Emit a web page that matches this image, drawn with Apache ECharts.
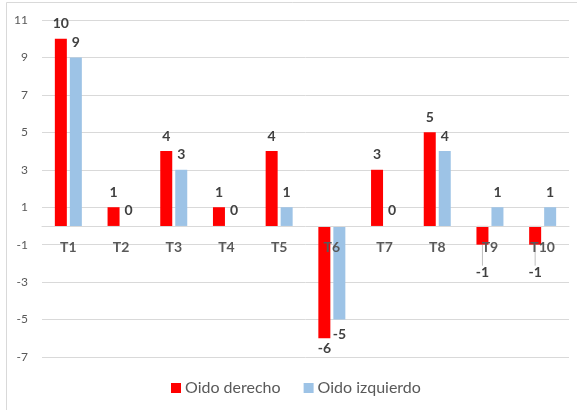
<!DOCTYPE html>
<html>
<head>
<meta charset="utf-8">
<script src="https://cdn.jsdelivr.net/npm/echarts@6/dist/echarts.min.js"></script>
<style>
html,body{margin:0;padding:0;background:#fff;}
#chart{width:577px;height:410px;}
</style>
</head>
<body>
<div id="chart"></div>
<script>
const categories = ['T1','T2','T3','T4','T5','T6','T7','T8','T9','T10'];
const seriesNames = ['Oido derecho','Oido izquierdo'];
const oidoDerecho = [10, 1, 4, 1, 4, -6, 3, 5, -1, -1];
const oidoIzquierdo = [9, 0, 3, 0, 1, -5, 0, 4, 1, 1];
const yTicks = [-7, -5, -3, -1, 1, 3, 5, 7, 9, 11];
const movedLabels = [8, 9]; // red labels dragged down with a leader line

const FONT = 'Lato, "Open Sans", sans-serif';
const chart = echarts.init(document.getElementById('chart'), null, {renderer: 'canvas'});

function labelCfg() {
  return {
    show: true,
    fontFamily: FONT,
    fontWeight: 'bold',
    fontSize: 14,
    color: '#404040',
    position: 'top',
    distance: 8
  };
}

function buildData(values, negDistance, moved) {
  return values.map(function (v, i) {
    if (v < 0) {
      const item = {value: v, label: {position: 'bottom', distance: negDistance}};
      if (moved && moved.indexOf(i) >= 0) {
        item.labelLine = {show: true};
      }
      return item;
    }
    return v;
  });
}

chart.setOption({
  animation: false,
  backgroundColor: '#fff',
  graphic: [{
    type: 'rect',
    shape: {x: 6.5, y: 2.5, width: 620, height: 440},
    style: {fill: 'none', stroke: '#d9d9d9', lineWidth: 1},
    silent: true
  }],
  grid: {left: 42, right: 8, top: 20, bottom: 53, containLabel: false},
  legend: {
    data: seriesNames,
    left: 171,
    top: 380,
    padding: 0,
    itemWidth: 10,
    itemHeight: 10,
    itemGap: 23,
    itemStyle: {borderWidth: 0},
    textStyle: {fontFamily: FONT, fontSize: 16, color: '#595959', padding: [0, 0, 0, -1]},
    icon: 'rect'
  },
  xAxis: {
    type: 'category',
    data: categories,
    position: 'bottom',
    offset: 0,
    axisLine: {onZero: false, lineStyle: {color: '#d9d9d9', width: 1}},
    axisTick: {show: false},
    axisLabel: {fontFamily: FONT, fontSize: 14, fontWeight: 'bold', color: '#595959', margin: 15},
    zlevel: 1,
    z: 10
  },
  yAxis: {
    type: 'value',
    min: yTicks[0],
    max: yTicks[yTicks.length - 1],
    interval: 1,
    axisLine: {show: false},
    axisTick: {show: false},
    axisLabel: {
      fontFamily: FONT, fontSize: 12, color: '#595959', margin: 14,
      formatter: function (v) { return yTicks.indexOf(v) >= 0 ? String(v) : ''; }
    },
    splitLine: {show: false}
  },
  series: [{
    name: seriesNames[0],
    type: 'bar',
    data: buildData(oidoDerecho, 3, movedLabels),
    barWidth: 12,
    barGap: '25%',
    z: 2,
    itemStyle: {color: '#ff0000'},
    label: labelCfg(),
    labelLayout: function (p) {
      if (movedLabels.indexOf(p.dataIndex) >= 0) { return {dy: 18}; }
      return {};
    },
    labelLine: {show: false, lineStyle: {color: '#bfbfbf', width: 1}, length2: 0},
    markLine: {
      silent: true,
      symbol: 'none',
      z: 1,
      label: {show: false},
      lineStyle: {color: '#d9d9d9', width: 1, type: 'solid'},
      emphasis: {disabled: true},
      data: yTicks.map(function (t) { return {yAxis: t}; })
    }
  }, {
    name: seriesNames[1],
    type: 'bar',
    data: buildData(oidoIzquierdo, 8),
    barWidth: 12,
    z: 2,
    itemStyle: {color: '#9dc3e6'},
    label: labelCfg()
  }]
});

// Move the category axis (line + labels) onto the zero value, using the value axis scale.
const zeroPx = chart.convertToPixel({yAxisIndex: 0}, 0);
const minPx = chart.convertToPixel({yAxisIndex: 0}, yTicks[0]);
chart.setOption({xAxis: {offset: -(minPx - zeroPx)}});
</script>
</body>
</html>
